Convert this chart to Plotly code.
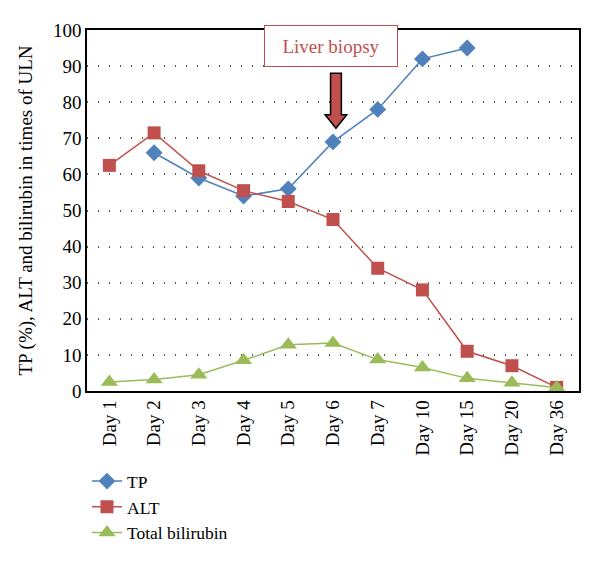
import plotly.graph_objects as go

days = ["Day 1", "Day 2", "Day 3", "Day 4", "Day 5", "Day 6", "Day 7",
        "Day 10", "Day 15", "Day 20", "Day 36"]
tp = [None, 66, 59, 54, 56, 69, 78, 92, 95, None, None]
alt = [62.5, 71.5, 61, 55.5, 52.5, 47.5, 34, 28, 11, 7, 1]
bilirubin = [2.5, 3.2, 4.5, 8.5, 12.8, 13.3, 8.7, 6.5, 3.5, 2.3, 1]

FONT = "Liberation Serif"
FS = 19
fig = go.Figure()
fig.add_trace(go.Scatter(x=days, y=tp, name="TP", mode="lines+markers",
                         line=dict(color="#4F81BD", width=1.5),
                         marker=dict(symbol="diamond", size=13, color="#4F81BD")))
fig.add_trace(go.Scatter(x=days, y=alt, name="ALT", mode="lines+markers",
                         line=dict(color="#C0504D", width=1.5),
                         marker=dict(symbol="square", size=13, color="#C0504D")))
fig.add_trace(go.Scatter(x=days, y=bilirubin, name="Total bilirubin", mode="lines+markers",
                         line=dict(color="#9BBB59", width=1.5),
                         marker=dict(symbol="triangle-up", size=15, color="#9BBB59")))

# arrow
cx = 0.506
bw = 0.011
hw = 0.022
path = (f"M {cx-bw} 88 L {cx+bw} 88 L {cx+bw} 76.5 L {cx+hw} 76.5 L {cx} 72.8 "
        f"L {cx-hw} 76.5 L {cx-bw} 76.5 Z")
fig.add_shape(type="path", path=path, xref="paper", yref="y",
              fillcolor="#C0504D", line=dict(color="black", width=1.5))

fig.add_annotation(text="Liver biopsy", xref="paper", yref="paper",
                   x=0.496, y=0.956, xanchor="center", yanchor="middle",
                   showarrow=False,
                   font=dict(family=FONT, size=FS, color="#C0504D"),
                   bordercolor="#C0504D", borderwidth=1, bgcolor="white",
                   width=130, height=38)

fig.update_layout(
    width=600, height=565,
    margin=dict(l=79, r=29, t=22, b=182, autoexpand=False),
    paper_bgcolor="white", plot_bgcolor="white",
    font=dict(family=FONT, size=FS, color="black"),
    showlegend=True,
    legend=dict(x=0.0, y=-0.2, xanchor="left", yanchor="top",
                font=dict(family=FONT, size=17.5), tracegroupgap=0,
                itemwidth=30),
    xaxis=dict(range=[-0.5, 10.5], showline=True, linecolor="black", linewidth=1.5,
               mirror=True, tickangle=-90, showgrid=False, ticks="", automargin=False,
               tickfont=dict(family=FONT, size=FS)),
    yaxis=dict(range=[0, 100], dtick=10, showline=True, linecolor="black",
               linewidth=1.5, mirror=True, showgrid=True, gridcolor="#555555",
               griddash="1px,10px", gridwidth=1.5, ticks="", zeroline=False,
               automargin=False,
               title=dict(text="TP (%), ALT and bilirubin in times of ULN",
                          font=dict(family=FONT, size=FS)),
               tickfont=dict(family=FONT, size=FS)),
)
fig.write_html("out.html")
